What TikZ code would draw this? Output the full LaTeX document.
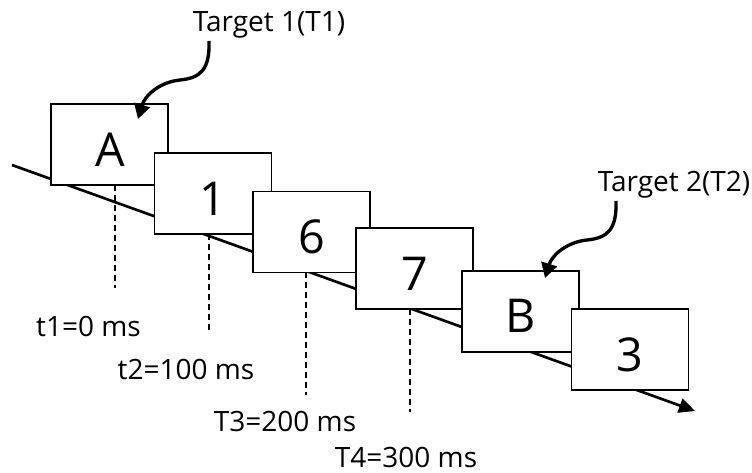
\documentclass[tikz,border=0pt]{standalone}
\usepackage{fontspec}
\setmainfont{Open Sans}
\usetikzlibrary{arrows.meta}
\begin{document}
\begin{tikzpicture}[x=0.75pt,y=-0.75pt,
  stim/.style={draw=black,fill=white,line width=1.3pt,minimum width=87.75pt,minimum height=60.75pt,inner sep=0pt,anchor=center},
  letter/.style={font=\fontsize{35}{40}\selectfont,inner sep=0pt},
  tlabel/.style={font=\fontsize{21}{24}\selectfont,inner sep=0pt},
  tglabel/.style={font=\fontsize{21}{24}\selectfont,inner sep=0pt},
  tick/.style={draw=black,line width=1.9pt,dash pattern=on 4.5pt off 3pt},
  axis/.style={draw=black,line width=2pt,-{Triangle[length=12pt,width=11pt]}},
  pointer/.style={draw=black,line width=2.5pt,-{Triangle[length=11pt,width=12pt]}}]
\useasboundingbox (0,0) rectangle (752,473);
\fill[white] (0,0) rectangle (752,473);
% time axis
\coordinate (ax0) at (12,165);
\coordinate (ax1) at (695,411);
\draw[axis] (ax0) -- (ax1);
% stimuli
\node[stim] (bA) at (109.5,144.5) {};
\node[letter] (lA) at (110,150) {A};
\node[stim] (b1) at (213,193.5) {};
\node[letter] (l1) at (213,199) {1};
\node[stim] (b6) at (311.5,232) {};
\node[letter] (l6) at (311.5,237) {6};
\node[stim] (b7) at (414.5,268.5) {};
\node[letter] (l7) at (414.5,273.5) {7};
\node[stim] (bB) at (520.5,311.5) {};
\node[letter] (lB) at (520.5,316) {B};
\node[stim] (b3) at (630,349.5) {};
\node[letter] (l3) at (630,355) {3};
% ticks
\coordinate (d1a) at (115,185); \coordinate (d1b) at (115,288);
\coordinate (d2a) at (209,234); \coordinate (d2b) at (209,333);
\coordinate (d3a) at (306,272); \coordinate (d3b) at (306,395);
\coordinate (d4a) at (410,309); \coordinate (d4b) at (410,412);
\draw[tick] (d1a) -- (d1b);
\draw[tick] (d2a) -- (d2b);
\draw[tick] (d3a) -- (d3b);
\draw[tick] (d4a) -- (d4b);
\node[tlabel] (t1) at (88.5,326) {t1=0 ms};
\node[tlabel] (t2) at (186,369) {t2=100 ms};
\node[tlabel] (t3) at (285,421) {T3=200 ms};
\node[tlabel] (t4) at (406,457) {T4=300 ms};
% targets
\node[tglabel] (g1) at (269,25) {Target 1(T1)};
\node[tglabel] (g2) at (674,185) {Target 2(T2)};
\coordinate (p1s) at (209,41);
\coordinate (p1e) at (138,119);
\coordinate (p2s) at (616,201);
\coordinate (p2e) at (545,278);
\draw[pointer] (p1s) .. controls (210,70) and (200,78) .. (180,80) .. controls (160,82) and (145,95) .. (p1e);
\draw[pointer] (p2s) .. controls (617,230) and (607,238) .. (587,240) .. controls (567,242) and (552,255) .. (p2e);
\end{tikzpicture}
\end{document}
